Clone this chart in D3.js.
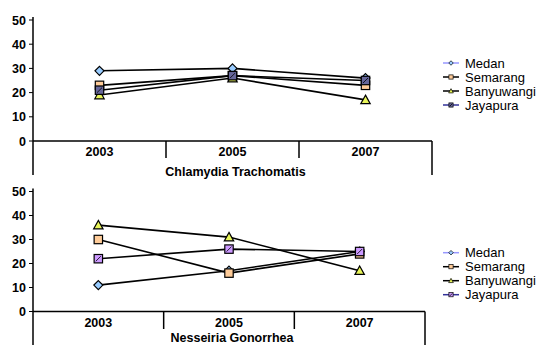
<!DOCTYPE html>
<html><head><meta charset="utf-8">
<script src="https://cdn.jsdelivr.net/npm/d3@7"></script>
<style>body{margin:0;background:#fff}svg{display:block}text{font-family:"Liberation Sans",Arial,sans-serif}</style>
</head><body><svg id="c" width="536" height="345"></svg>
<script>
const years = ["2003","2005","2007"];
const seriesNames = ["Medan","Semarang","Banyuwangi","Jayapura"];
const yTicks = [0,10,20,30,40,50];
const chlamydiaTitle = "Chlamydia Trachomatis";
const chlamydiaMedan = [29,30,26];
const chlamydiaSemarang = [23,27,23];
const chlamydiaBanyuwangi = [19,26,17];
const chlamydiaJayapura = [21,27,25];
const gonorrheaTitle = "Nesseiria Gonorrhea";
const gonorrheaMedan = [11,17,25];
const gonorrheaSemarang = [30,16,24];
const gonorrheaBanyuwangi = [36,31,17];
const gonorrheaJayapura = [22,26,25];

const svg = d3.select("#c");

function drawPanel(cfg){
  const g = svg.append("g");
  const x = d3.scaleBand().domain(years).range([cfg.left, cfg.right]);
  const y = d3.scaleLinear().domain([0,50]).range([cfg.y0, cfg.y50]);
  g.append("line").attr("x1",cfg.left).attr("x2",cfg.left).attr("y1",cfg.y50-3).attr("y2",cfg.bottom).attr("stroke","#000").attr("stroke-width",1.5);
  g.selectAll(".yt").data(yTicks).enter().append("line")
    .attr("x1",cfg.left-4).attr("x2",cfg.left).attr("y1",d=>y(d)).attr("y2",d=>y(d)).attr("stroke","#000").attr("stroke-width",1);
  g.selectAll(".yl").data(yTicks).enter().append("text")
    .attr("x",cfg.left-7).attr("y",d=>y(d)+4.5).attr("text-anchor","end")
    .attr("font-size",12.5).attr("font-weight","bold").text(d=>d);
  g.append("line").attr("x1",cfg.left).attr("x2",cfg.right).attr("y1",y(0)).attr("y2",y(0)).attr("stroke","#000").attr("stroke-width",1.5);
  years.slice(1).forEach(yr=>{
    g.append("line").attr("x1",x(yr)).attr("x2",x(yr)).attr("y1",y(0)).attr("y2",cfg.tickBottom).attr("stroke","#000").attr("stroke-width",1.5);
  });
  g.append("line").attr("x1",cfg.right).attr("x2",cfg.right).attr("y1",y(0)).attr("y2",cfg.bottom).attr("stroke","#000").attr("stroke-width",1.5);
  g.selectAll(".xl").data(years).enter().append("text")
    .attr("x",d=>x(d)+x.bandwidth()/2).attr("y",y(0)+15).attr("text-anchor","middle")
    .attr("font-size",12.5).attr("font-weight","bold").text(d=>d);
  g.append("text").attr("x",(cfg.left+cfg.right)/2+3).attr("y",cfg.titleY).attr("text-anchor","middle")
    .attr("font-size",12.5).attr("font-weight","bold").text(cfg.title);

  const cx = d=>x(d)+x.bandwidth()/2;
  const line = d3.line().x(d=>cx(d.year)).y(d=>y(d.v));
  const data = cfg.series.map((vals,i)=>({name:seriesNames[i], pts:years.map((yr,j)=>({year:yr,v:vals[j]}))}));
  data.forEach(s=>{
    g.append("path").attr("d",line(s.pts)).attr("fill","none").attr("stroke","#000").attr("stroke-width",1.6);
  });
  data.forEach((s,i)=>{
    s.pts.forEach(p=>marker(g,i,cx(p.year),y(p.v),cfg.jayFill));
  });
  seriesNames.forEach((n,i)=>{
    const ly = cfg.legendY + i*14;
    const lc = i===0?"#9999ff":(i===3?"#333399":"#000");
    g.append("line").attr("x1",443).attr("x2",459).attr("y1",ly).attr("y2",ly).attr("stroke",lc).attr("stroke-width",1.5);
    marker(g,i,451,ly,cfg.jayFill,0.5);
    g.append("text").attr("x",465).attr("y",ly+4.5).attr("font-size",13).text(n);
  });
}

function marker(g,i,px,py,jayFill,s){
  s = s||1;
  const sw = s<1?0.7:1.2;
  if(i===0){
    const r=4.5*s;
    g.append("path").attr("d",`M${px},${py-r}L${px+r},${py}L${px},${py+r}L${px-r},${py}Z`)
      .attr("fill","#99ccff").attr("stroke","#000").attr("stroke-width",sw);
  } else if(i===1){
    const h=4.2*s;
    g.append("rect").attr("x",px-h).attr("y",py-h).attr("width",2*h).attr("height",2*h)
      .attr("fill","#ffcc99").attr("stroke","#000").attr("stroke-width",sw);
  } else if(i===2){
    const h=4.7*s;
    g.append("path").attr("d",`M${px},${py-h}L${px+h},${py+h*0.8}L${px-h},${py+h*0.8}Z`)
      .attr("fill","#e8f55a").attr("stroke","#000").attr("stroke-width",sw);
  } else {
    const h=4.2*s;
    g.append("rect").attr("x",px-h).attr("y",py-h).attr("width",2*h).attr("height",2*h)
      .attr("fill",jayFill).attr("stroke","#000").attr("stroke-width",sw);
    g.append("line").attr("x1",px-h*0.6).attr("x2",px+h*0.6).attr("y1",py+h*0.6).attr("y2",py-h*0.6).attr("stroke","#000").attr("stroke-width",0.8);
  }
}

drawPanel({left:33,right:432,y0:141,y50:20,bottom:175,tickBottom:158,titleY:175.5,title:chlamydiaTitle,
  series:[chlamydiaMedan,chlamydiaSemarang,chlamydiaBanyuwangi,chlamydiaJayapura],legendY:63,jayFill:"#666699"});
drawPanel({left:33,right:425,y0:311.5,y50:191.5,bottom:345,tickBottom:329,titleY:342,title:gonorrheaTitle,
  series:[gonorrheaMedan,gonorrheaSemarang,gonorrheaBanyuwangi,gonorrheaJayapura],legendY:252.7,jayFill:"#cc99ff"});
</script></body></html>
